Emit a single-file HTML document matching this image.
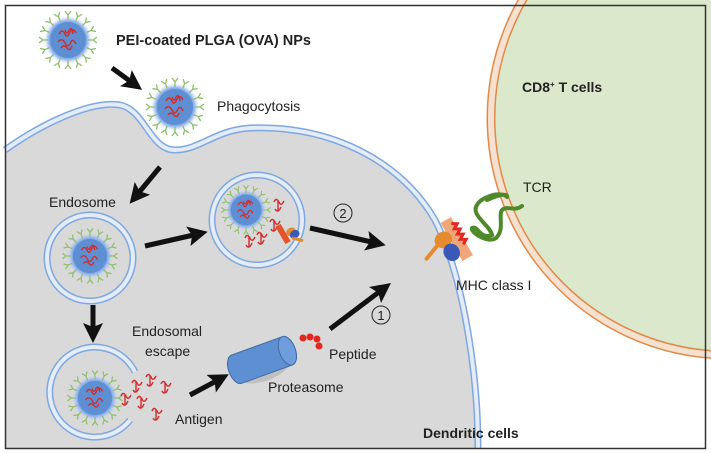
<!DOCTYPE html>
<html><head><meta charset="utf-8"><style>
html,body{margin:0;padding:0;background:#fff;}
svg{display:block;font-family:"Liberation Sans",Arial,sans-serif;}
</style></head><body>
<svg width="711" height="453" viewBox="0 0 711 453" xmlns="http://www.w3.org/2000/svg">
<defs>
<radialGradient id="halo" cx="50%" cy="50%" r="50%">
<stop offset="60%" stop-color="#5b8fd6"/><stop offset="80%" stop-color="#8fb2ee"/><stop offset="100%" stop-color="#c9d8f5" stop-opacity="0"/>
</radialGradient>
<g id="spike"><path d="M0,-20 L0,-25 M0,-25 L-3,-29 M0,-25 L3,-29" stroke="#8cc06a" stroke-width="1.3" fill="none"/></g>
<g id="np">
<circle r="24" fill="url(#halo)"/>
<use href="#spike" transform="rotate(0)"/><use href="#spike" transform="rotate(22.5)"/><use href="#spike" transform="rotate(45)"/><use href="#spike" transform="rotate(67.5)"/>
<use href="#spike" transform="rotate(90)"/><use href="#spike" transform="rotate(112.5)"/><use href="#spike" transform="rotate(135)"/><use href="#spike" transform="rotate(157.5)"/>
<use href="#spike" transform="rotate(180)"/><use href="#spike" transform="rotate(202.5)"/><use href="#spike" transform="rotate(225)"/><use href="#spike" transform="rotate(247.5)"/>
<use href="#spike" transform="rotate(270)"/><use href="#spike" transform="rotate(292.5)"/><use href="#spike" transform="rotate(315)"/><use href="#spike" transform="rotate(337.5)"/>
<circle r="18" fill="#5f8fd3"/>
<path d="M-9,-6 q3,-6 6,0 q2,5 5,-2 q3,-5 6,1 M-10,2 q4,-5 7,1 q3,6 6,-1 q2,-4 5,2 M-7,8 q3,-4 6,0 q3,4 5,-2 M-3,-10 q2,6 4,0 q3,-4 4,4" stroke="#d42a2a" stroke-width="1.4" fill="none"/>
</g>
<g id="ag"><path d="M-5,-4 q2,-5 5,0 q2,5 5,-1 M-4,3 q3,5 6,-2 M-1,-5 L-1,5" stroke="#d42a2a" stroke-width="1.4" fill="none"/></g>
<marker id="ah" viewBox="0 0 10 10" refX="5" refY="5" markerWidth="4" markerHeight="4" orient="auto"><path d="M0,0 L10,5 L0,10 L2,5 Z" fill="#111"/></marker>
</defs>
<rect x="0" y="0" width="711" height="453" fill="#fff"/>
<!-- T cell -->
<circle cx="728" cy="118" r="233" fill="#dce8cc"/>
<circle cx="728" cy="118" r="237" fill="none" stroke="#e08a48" stroke-width="9"/>
<circle cx="728" cy="118" r="237" fill="none" stroke="#f6e0cf" stroke-width="6"/>
<!-- Dendritic cell -->
<path d="M5,150 C40,125 90,100 120,105 C145,110 150,150 175,150 C200,150 215,130 250,128 C330,125 400,160 435,220 C465,280 478,380 478,448 L5,448 Z" fill="#d9d9d9"/>
<path d="M5,150 C40,125 90,100 120,105 C145,110 150,150 175,150 C200,150 215,130 250,128 C330,125 400,160 435,220 C465,280 478,380 478,448" fill="none" stroke="#7fa8e0" stroke-width="7"/>
<path d="M5,150 C40,125 90,100 120,105 C145,110 150,150 175,150 C200,150 215,130 250,128 C330,125 400,160 435,220 C465,280 478,380 478,448" fill="none" stroke="#e3ecf8" stroke-width="4"/>
<!-- endosomes -->
<g fill="none">
<circle cx="90" cy="258" r="43" stroke="#7fa8e0" stroke-width="7"/><circle cx="90" cy="258" r="43" stroke="#e3ecf8" stroke-width="4"/>
<circle cx="257" cy="220" r="45" stroke="#7fa8e0" stroke-width="7"/><circle cx="257" cy="220" r="45" stroke="#e3ecf8" stroke-width="4"/>
<path d="M135,372 A45,45 0 1 0 130,420" stroke="#7fa8e0" stroke-width="7"/><path d="M135,372 A45,45 0 1 0 130,420" stroke="#e3ecf8" stroke-width="4"/>
</g>
<use href="#np" transform="translate(68,40)"/>
<use href="#np" transform="translate(175,107)"/>
<use href="#np" transform="translate(90,256) scale(0.95)"/>
<use href="#np" transform="translate(246,210) scale(0.85)"/>
<use href="#np" transform="translate(95,398) scale(0.95)"/>
<!-- antigens -->
<use href="#ag" transform="translate(279,206)"/><use href="#ag" transform="translate(275,226)"/><use href="#ag" transform="translate(262,239)"/><use href="#ag" transform="translate(250,242)"/>
<use href="#ag" transform="translate(137,387)"/><use href="#ag" transform="translate(151,381)"/><use href="#ag" transform="translate(166,388)"/><use href="#ag" transform="translate(142,403)"/><use href="#ag" transform="translate(157,415)"/><use href="#ag" transform="translate(126,400)"/>
<!-- MHC in endosome -->
<g transform="translate(283,234) rotate(-30)">
<rect x="-3" y="-10" width="6" height="20" fill="#e4542a"/>
<ellipse cx="8" cy="2" rx="5" ry="4" fill="#e58a2e"/><ellipse cx="10" cy="6" rx="5" ry="4" fill="#3958b8"/>
<path d="M6,8 L14,16" stroke="#e58a2e" stroke-width="3"/>
</g>
<!-- proteasome -->
<g transform="translate(262,360) rotate(-20)">
<ellipse cx="-1" cy="4" rx="32" ry="17" fill="#999" opacity="0.4"/>
<path d="M-27,-15 L27,-15 A8,15 0 0 1 27,15 L-27,15 A8,15 0 0 1 -27,-15 Z" fill="#5f8fd3" stroke="#3f6aaa" stroke-width="1"/>
<ellipse cx="27" cy="0" rx="8" ry="15" fill="#6f9ddc" stroke="#3f6aaa" stroke-width="1"/>
</g>
<g fill="#e3271d"><circle cx="303" cy="338" r="3.5"/><circle cx="310" cy="337" r="3.5"/><circle cx="317" cy="339" r="3.5"/><circle cx="319" cy="346" r="3.5"/></g>
<!-- MHC on surface -->
<g transform="translate(455,240) rotate(-30)">
<rect x="-4" y="-22" width="12" height="44" fill="#f1a67a"/>
<path d="M5,-16 l5,3 l-5,3 l5,3 l-5,3 l5,3 l-5,3 l5,3 l-5,3" stroke="#e3271d" stroke-width="3" fill="none"/>
<ellipse cx="-10" cy="-6" rx="9" ry="8" fill="#e58a2e"/>
<ellipse cx="-9" cy="9" rx="8" ry="9" fill="#3958b8"/>
<path d="M-18,-4 L-34,2" stroke="#e58a2e" stroke-width="4" stroke-linecap="round"/>
</g>
<!-- TCR -->
<path d="M507,197 C500,190 480,198 477,205 C470,215 490,225 492,235 C480,240 478,225 472,228 C470,232 488,244 496,238 C505,230 498,215 502,210 C508,205 514,212 522,206 M487,200 C505,192 508,195 507,197" fill="none" stroke="#4e8a2a" stroke-width="4" stroke-linecap="round"/>
<!-- arrows -->
<g stroke="#111" stroke-width="5" marker-end="url(#ah)" fill="none">
<line x1="112" y1="68" x2="134" y2="84"/>
<line x1="160" y1="167" x2="136" y2="196"/>
<line x1="145" y1="246" x2="198" y2="234"/>
<line x1="93" y1="305" x2="93" y2="333"/>
<line x1="190" y1="395" x2="220" y2="379"/>
<line x1="310" y1="228" x2="376" y2="243"/>
<line x1="330" y1="329" x2="383" y2="289"/>
</g>
<!-- circled numbers -->
<g fill="none" stroke="#222" stroke-width="1"><circle cx="343" cy="213" r="9"/><circle cx="381" cy="315" r="9"/></g>
<g font-size="13" fill="#222" text-anchor="middle"><text x="343" y="218">2</text><text x="381" y="320">1</text></g>
<!-- labels -->
<g font-size="14" fill="#222">
<text x="116" y="45" font-weight="bold" font-size="14.5">PEI-coated PLGA (OVA) NPs</text>
<text x="217" y="111">Phagocytosis</text>
<text x="49" y="207">Endosome</text>
<text x="132" y="336">Endosomal</text>
<text x="145" y="356">escape</text>
<text x="175" y="424">Antigen</text>
<text x="268" y="392">Proteasome</text>
<text x="329" y="359">Peptide</text>
<text x="456" y="290">MHC class I</text>
<text x="523" y="192">TCR</text>
<text x="522" y="92" font-weight="bold">CD8<tspan font-size="8" dy="-5">+</tspan><tspan dy="5"> T cells</tspan></text>
<text x="423" y="438" font-weight="bold">Dendritic cells</text>
</g>
<rect x="5.5" y="5.5" width="700" height="443" fill="none" stroke="#333" stroke-width="1.5"/>
</svg>
</body></html>
